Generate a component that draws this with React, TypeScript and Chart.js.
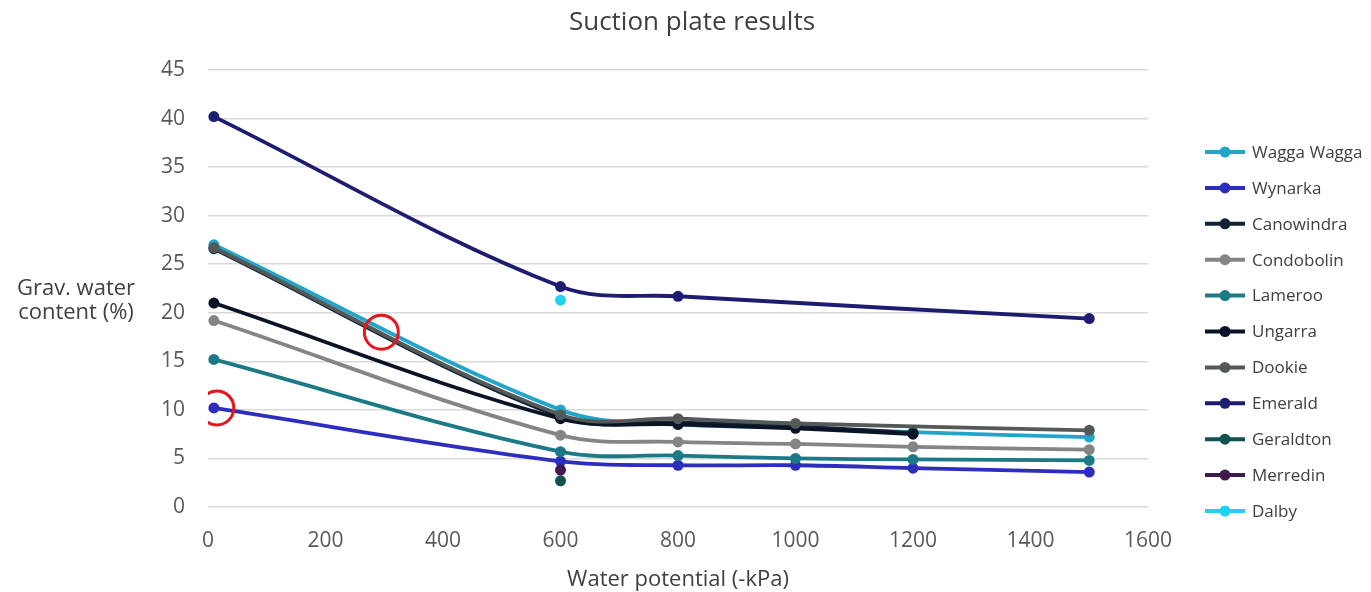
import React, { useEffect, useRef } from "react";
import { Chart, registerables } from "chart.js";

Chart.register(...registerables);

// ---- Data ----
const potentials = [10, 600, 800, 1000, 1200, 1500];
const xTickStep = 200;
const yTickStep = 5;

const seriesNames = [
  "Wagga Wagga",
  "Wynarka",
  "Canowindra",
  "Condobolin",
  "Lameroo",
  "Ungarra",
  "Dookie",
  "Emerald",
  "Geraldton",
  "Merredin",
  "Dalby",
];
const waggaWagga = [27.0, 10.0, 8.5, 8.2, 7.7, 7.2];
const wynarka = [10.2, 4.7, 4.3, 4.3, 4.0, 3.6];
const canowindra = [26.6, 9.3, 8.7, 8.3, 7.6, null];
const condobolin = [19.2, 7.4, 6.7, 6.5, 6.2, 5.9];
const lameroo = [15.2, 5.7, 5.3, 5.0, 4.9, 4.8];
const ungarra = [21.0, 9.1, 8.5, 8.1, 7.5, null];
const dookie = [26.7, 9.5, 9.1, 8.6, null, 7.9];
const emerald = [40.2, 22.7, 21.7, null, null, 19.4];
const geraldton = [null, 2.7, null, null, null, null];
const merredin = [null, 3.8, null, null, null, null];
const dalby = [null, 21.3, null, null, null, null];

const seriesValues = [
  waggaWagga, wynarka, canowindra, condobolin, lameroo, ungarra,
  dookie, emerald, geraldton, merredin, dalby,
];
const seriesColors = [
  "#22A5C8", "#2E2EBE", "#0F2236", "#858585", "#1B7A86", "#0A1424",
  "#555859", "#1E1C70", "#0F5252", "#3E1A4E", "#22D0F2",
];

// highlighted points (red rings)
const ringX = [15, 295];
const ringY = [10.2, 18.0];

const chartTitle = "Suction plate results";
const yTitleLines = ["Grav. water", "content (%)"];
const xTitle = "Water potential (-kPa)";

const FONT = "'Open Sans', 'Liberation Sans', sans-serif";
const TEXT = "#404040";

const textPlugin = {
  id: "extraText",
  afterDraw(chart: any) {
    const ctx = chart.ctx;
    const a = chart.chartArea;
    const cy = (a.top + a.bottom) / 2;
    ctx.save();
    ctx.fillStyle = TEXT;
    ctx.textAlign = "center";
    ctx.textBaseline = "middle";
    // chart title
    ctx.font = `26px ${FONT}`;
    ctx.fillText(chartTitle, 692, 23);
    // y axis title (horizontal, two lines)
    ctx.font = `22px ${FONT}`;
    ctx.fillText(yTitleLines[0], 76, cy);
    ctx.fillText(yTitleLines[1], 76, cy + 24);
    ctx.restore();
  },
};

const legendPlugin = {
  id: "sideLegend",
  afterDraw(chart: any) {
    const ctx = chart.ctx;
    const a = chart.chartArea;
    const x0 = a.right + 57;
    const y0 = a.top + 82;
    const step = 35.9;
    ctx.save();
    ctx.font = `17px ${FONT}`;
    ctx.textBaseline = "middle";
    ctx.textAlign = "left";
    seriesNames.forEach((name, i) => {
      const y = y0 + i * step;
      const c = seriesColors[i];
      ctx.strokeStyle = c;
      ctx.lineWidth = 4;
      ctx.beginPath();
      ctx.moveTo(x0, y);
      ctx.lineTo(x0 + 40, y);
      ctx.stroke();
      ctx.fillStyle = c;
      ctx.beginPath();
      ctx.arc(x0 + 20, y, 5.5, 0, Math.PI * 2);
      ctx.fill();
      ctx.fillStyle = TEXT;
      ctx.fillText(name, x0 + 47, y + 1);
    });
    ctx.restore();
  },
};

export default function App() {
  const ref = useRef<HTMLCanvasElement | null>(null);

  useEffect(() => {
    if (!ref.current) return;
    const datasets: any[] = seriesNames.map((name, i) => ({
      label: name,
      data: potentials
        .map((x, j) => ({ x, y: seriesValues[i][j] }))
        .filter((p) => p.y !== null),
      borderColor: seriesColors[i],
      backgroundColor: seriesColors[i],
      borderWidth: 3.8,
      pointRadius: 5.5,
      pointBorderWidth: 0,
      pointHoverRadius: 5.5,
      tension: 0.35,
      showLine: true,
      order: -i,
    }));
    datasets.push({
      label: "highlight",
      data: ringX.map((x, j) => ({ x, y: ringY[j] })),
      borderColor: "#E8141B",
      backgroundColor: "rgba(0,0,0,0)",
      pointRadius: 17,
      pointBorderWidth: 3,
      pointHoverRadius: 17,
      showLine: false,
      order: -50,
    });

    const chart = new Chart(ref.current, {
      type: "scatter",
      data: { datasets },
      options: {
        responsive: true,
        maintainAspectRatio: false,
        animation: false,
        layout: { padding: { left: 138, right: 223, top: 70, bottom: 0 } },
        plugins: {
          legend: { display: false },
          tooltip: { enabled: false },
          title: { display: false },
        },
        scales: {
          x: {
            type: "linear",
            min: 0,
            max: 1600,
            ticks: {
              stepSize: xTickStep,
              padding: 2.5,
              color: "#595959",
              font: { family: FONT, size: 21, lineHeight: 1.0 },
              callback: (v: any) => String(v),
            },
            grid: {
              display: true,
              color: "rgba(0,0,0,0)",
              drawTicks: true,
              tickLength: 21,
              tickColor: "rgba(0,0,0,0)",
            },
            border: { display: false },
            title: {
              display: true,
              text: xTitle,
              color: TEXT,
              font: { family: FONT, size: 22, lineHeight: 1.0 },
              padding: { top: 15, bottom: 1 },
            },
          },
          y: {
            type: "linear",
            min: 0,
            max: 45,
            ticks: {
              stepSize: yTickStep,
              padding: 23,
              color: "#595959",
              font: { family: FONT, size: 21 },
              callback: (v: any) => String(v),
            },
            grid: { color: "#D9D9D9", drawTicks: false, lineWidth: 1.5 },
            border: { display: false },
          },
        },
      },
      plugins: [textPlugin, legendPlugin],
    });
    return () => chart.destroy();
  }, []);

  return (
    <div style={{ position: "absolute", left: 0, top: 0, width: 1371, height: 592, background: "#fff" }}>
      <canvas ref={ref} />
    </div>
  );
}
